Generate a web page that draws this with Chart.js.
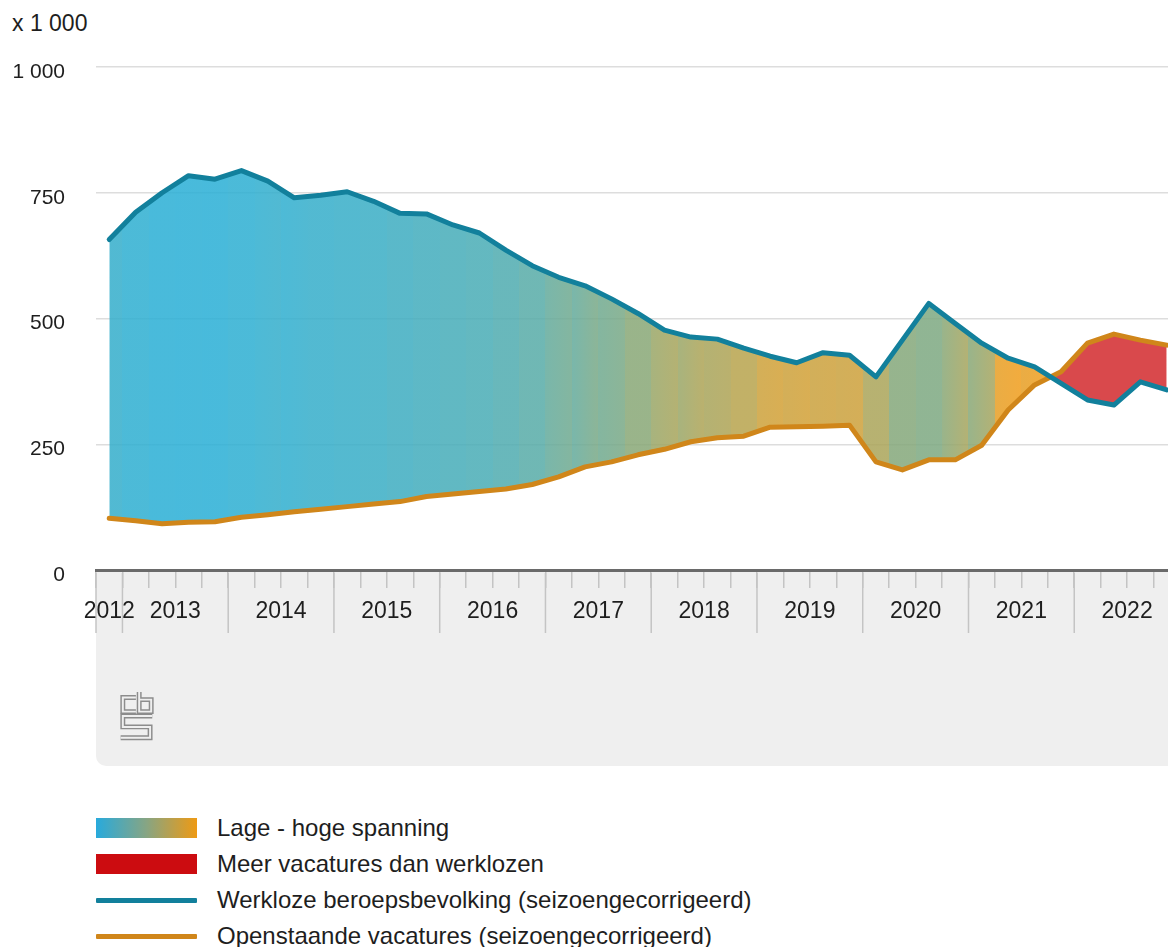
<!DOCTYPE html>
<html lang="nl">
<head>
<meta charset="utf-8">
<title>Spanning op de arbeidsmarkt</title>
<script src="https://cdn.jsdelivr.net/npm/chart.js@4.4.1/dist/chart.umd.min.js"></script>
<style>
  html, body { margin: 0; padding: 0; background: #fff; }
  body {
    width: 1168px; height: 947px; overflow: hidden; position: relative;
    font-family: "Liberation Sans", Arial, Helvetica, sans-serif; color: #1e1e1e;
  }
  #unit { position: absolute; left: 12px; top: 9px; font-size: 23px; line-height: 28px; }
  #panel {
    position: absolute; left: 96px; top: 571px; width: 1150px; height: 195px;
    background: #efefef; border-bottom-left-radius: 10px;
  }
  #logo { position: absolute; left: 23px; top: 119px; }
  #chartBox { position: absolute; left: 0; top: 0; width: 1200px; height: 770px; }
  #legend { position: absolute; left: 96px; top: 810px; }
  .row { height: 36px; display: flex; align-items: center; font-size: 24px; white-space: nowrap; }
  .swatch { width: 101px; margin-right: 20px; }
  .box { height: 20px; }
  .line { height: 5px; border-radius: 1px; }
</style>
</head>
<body>

<div id="unit">x 1 000</div>

<div id="panel">
  <svg id="logo" width="36" height="52" viewBox="-1.5 -1.5 33 47">
    <g fill="none" stroke-linejoin="miter" stroke-linecap="butt">
      <g stroke="#8c8c8c" stroke-width="4.5">
        <path d="M14,5 H2 V18 H14"/>
        <path d="M17,0 V18 H28 V7 H17"/>
        <path d="M29,22 H2 V32 H27 V42 H0"/>
      </g>
      <g stroke="#efefef" stroke-width="1.8">
        <path d="M14,5 H2 V18 H14"/>
        <path d="M17,0 V18 H28 V7 H17"/>
        <path d="M29,22 H2 V32 H27 V42 H0"/>
      </g>
    </g>
  </svg>
</div>

<div id="chartBox"><canvas id="spanningChart"></canvas></div>

<div id="legend">
  <div class="row"><div class="swatch box" style="background: linear-gradient(to right, #28aadc, #87a583 50%, #ee9a14);"></div>Lage - hoge spanning</div>
  <div class="row"><div class="swatch box" style="background: #cc0c10;"></div>Meer vacatures dan werklozen</div>
  <div class="row"><div class="swatch line" style="background: #12809c;"></div>Werkloze beroepsbevolking (seizoengecorrigeerd)</div>
  <div class="row"><div class="swatch line" style="background: #d0861a;"></div>Openstaande vacatures (seizoengecorrigeerd)</div>
</div>

<script>
// Kwartalen (x-as)
const quarters = [
    '2012 K4',
    '2013 K1', '2013 K2', '2013 K3', '2013 K4',
    '2014 K1', '2014 K2', '2014 K3', '2014 K4',
    '2015 K1', '2015 K2', '2015 K3', '2015 K4',
    '2016 K1', '2016 K2', '2016 K3', '2016 K4',
    '2017 K1', '2017 K2', '2017 K3', '2017 K4',
    '2018 K1', '2018 K2', '2018 K3', '2018 K4',
    '2019 K1', '2019 K2', '2019 K3', '2019 K4',
    '2020 K1', '2020 K2', '2020 K3', '2020 K4',
    '2021 K1', '2021 K2', '2021 K3', '2021 K4',
    '2022 K1', '2022 K2', '2022 K3', '2022 K4'
];

const years = ['2012', '2013', '2014', '2015', '2016', '2017', '2018', '2019', '2020', '2021', '2022'];

// x 1 000, seizoengecorrigeerd
const unemployed = [
    657,
    711, 750, 784, 777,
    794, 773, 740, 745,
    752, 733, 709, 708,
    686, 670, 636, 605,
    582, 565, 539, 510,
    477, 463, 459, 441,
    425, 412, 432, 427,
    384, 457, 530, 490,
    451, 421, 404, 371,
    338, 328, 374, 358
];

const vacancies = [
    103,
    98, 92, 95, 96,
    105, 110, 116, 121,
    126, 131, 136, 146,
    151, 156, 161, 170,
    185, 205, 215, 229,
    240, 255, 263, 266,
    284, 285, 286, 288,
    215, 199, 219, 219,
    248, 318, 368, 394,
    451, 469, 457, 447
];

const yTicks = [0, 250, 500, 750, 1000];
const yTickLabels = ['0', '250', '500', '750', '1 000'];

// Farben
const lowColor = [42, 175, 214];
const midColor = [138, 168, 118];
const highColor = [240, 158, 30];

function tensionColor(ratio) {
    const t = Math.max(0, Math.min(1, (ratio - 0.12) * 1.5));
    const a = t < 0.5 ? lowColor : midColor;
    const b = t < 0.5 ? midColor : highColor;
    const f = t < 0.5 ? t * 2 : (t - 0.5) * 2;
    const c = a.map((v, k) => Math.round(v + (b[k] - v) * f));
    return 'rgba(' + c[0] + ',' + c[1] + ',' + c[2] + ',0.86)';
}

// Verlauf pro Kwartal (vertikale Streifen)
function tensionFill(context) {
    const chart = context.chart;
    const area = chart.chartArea;
    const xScale = chart.scales.x;
    if (!area || !xScale) return 'rgba(0,0,0,0)';
    const width = area.right - area.left;
    const half = (xScale.getPixelForValue(1) - xScale.getPixelForValue(0)) / 2;
    const g = chart.ctx.createLinearGradient(area.left, 0, area.right, 0);
    const clamp = v => Math.max(0, Math.min(1, v));
    unemployed.forEach((u, i) => {
        const c = tensionColor(vacancies[i] / u);
        const mid = xScale.getPixelForValue(i);
        g.addColorStop(clamp((mid - half - area.left) / width), c);
        g.addColorStop(clamp((mid + half - area.left) / width), c);
    });
    return g;
}

// Jahres-Striche und Beschriftung unter der x-Achse
const yearAxis = {
    id: 'yearAxis',
    afterDraw(chart) {
        const ctx = chart.ctx;
        const x = chart.scales.x;
        const bottom = chart.chartArea.bottom;
        const half = (x.getPixelForValue(1) - x.getPixelForValue(0)) / 2;
        ctx.save();
        ctx.strokeStyle = '#c4c4c4';
        ctx.lineWidth = 1.5;
        ctx.fillStyle = '#1e1e1e';
        ctx.font = '23px "Liberation Sans", Arial, sans-serif';
        ctx.textAlign = 'center';
        ctx.textBaseline = 'middle';
        years.forEach(year => {
            const idx = [];
            quarters.forEach((q, i) => { if (q.startsWith(year)) idx.push(i); });
            const left = x.getPixelForValue(idx[0]) - half;
            const right = x.getPixelForValue(idx[idx.length - 1]) + half;
            ctx.beginPath();
            ctx.moveTo(left, bottom + 3);
            ctx.lineTo(left, bottom + 63);
            ctx.stroke();
            ctx.fillText(year, (left + right) / 2, bottom + 42);
        });
        ctx.restore();
    }
};

const canvas = document.getElementById('spanningChart');

new Chart(canvas, {
    type: 'line',
    data: {
        labels: quarters,
        datasets: [{
            label: 'Werkloze beroepsbevolking (seizoengecorrigeerd)',
            data: unemployed,
            borderColor: '#12809c',
            borderWidth: 5,
            pointRadius: 0,
            tension: 0,
            fill: false,
            borderCapStyle: 'round',
            borderJoinStyle: 'round'
        }, {
            label: 'Openstaande vacatures (seizoengecorrigeerd)',
            data: vacancies,
            borderColor: '#d0861a',
            borderWidth: 5,
            pointRadius: 0,
            tension: 0,
            backgroundColor: tensionFill,
            fill: { target: 0, above: 'rgba(204,12,16,0.75)' },
            borderCapStyle: 'round',
            borderJoinStyle: 'round'
        }]
    },
    options: {
        responsive: true,
        maintainAspectRatio: false,
        animation: false,
        layout: { padding: { top: 67, left: 0, right: 20, bottom: 0 } },
        plugins: {
            legend: { display: false },
            tooltip: { enabled: false },
            title: { display: false }
        },
        scales: {
            x: {
                type: 'category',
                offset: true,
                ticks: { display: false },
                grid: {
                    offset: true,
                    drawOnChartArea: false,
                    drawTicks: true,
                    tickLength: 18,
                    color: '#c4c4c4',
                    lineWidth: 1.5
                },
                border: { display: true, color: '#6a6a6a', width: 3 },
                afterFit: scale => { scale.height = 200; }
            },
            y: {
                min: 0,
                max: 1000,
                afterBuildTicks: scale => { scale.ticks = yTicks.map(v => ({ value: v })); },
                ticks: {
                    callback: v => yTickLabels[yTicks.indexOf(v)],
                    padding: 31,
                    labelOffset: 5,
                    color: '#1e1e1e',
                    font: { family: '"Liberation Sans", Arial, sans-serif', size: 21 }
                },
                grid: { color: '#dddddd', lineWidth: 1.5, drawTicks: false },
                border: { display: false },
                afterFit: scale => { scale.width = 96; }
            }
        }
    },
    plugins: [yearAxis]
});
</script>
</body>
</html>
